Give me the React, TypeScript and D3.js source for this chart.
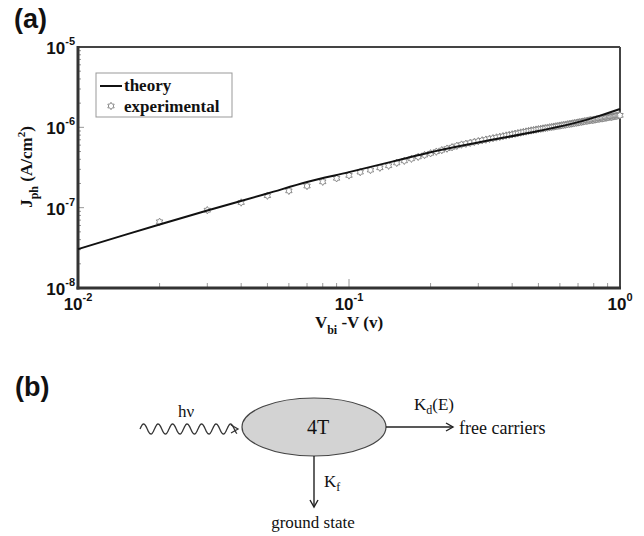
import React from "react";
import * as d3 from "d3";

// Photocurrent density vs. effective voltage (log-log)
const THEORY_V = [0.01, 0.015, 0.02, 0.03, 0.05, 0.07, 0.1, 0.15, 0.2, 0.3, 0.5, 0.7, 0.85, 1.0];
const THEORY_J = [3.05e-8, 4.62e-8, 6.18e-8, 9.23e-8, 1.5e-7, 2.09e-7, 2.77e-7, 3.86e-7, 4.9e-7, 6.49e-7, 9.0e-7, 1.16e-6, 1.41e-6, 1.69e-6];

const EXP_V = [
  0.02, 0.03, 0.04, 0.05, 0.06, 0.07, 0.08, 0.09, 0.1,
  0.11, 0.12, 0.13, 0.14, 0.15, 0.16, 0.17, 0.18, 0.19, 0.2,
  0.21, 0.22, 0.23, 0.24, 0.25, 0.26, 0.27, 0.28, 0.29, 0.3,
  0.31, 0.32, 0.33, 0.34, 0.35, 0.36, 0.37, 0.38, 0.39, 0.4,
  0.41, 0.42, 0.43, 0.44, 0.45, 0.46, 0.47, 0.48, 0.49, 0.5,
  0.51, 0.52, 0.53, 0.54, 0.55, 0.56, 0.57, 0.58, 0.59, 0.6,
  0.61, 0.62, 0.63, 0.64, 0.65, 0.66, 0.67, 0.68, 0.69, 0.7,
  0.71, 0.72, 0.73, 0.74, 0.75, 0.76, 0.77, 0.78, 0.79, 0.8,
  0.81, 0.82, 0.83, 0.84, 0.85, 0.86, 0.87, 0.88, 0.89, 0.9,
  0.91, 0.92, 0.93, 0.94, 0.95, 0.96, 0.97, 0.98, 0.99, 1.0,
];
const EXP_J = [
  6.67e-8, 9.3e-8, 1.16e-7, 1.41e-7, 1.62e-7, 1.86e-7, 2.1e-7, 2.32e-7, 2.52e-7,
  2.77e-7, 2.94e-7, 3.14e-7, 3.33e-7, 3.61e-7, 3.83e-7, 4.06e-7, 4.29e-7, 4.52e-7, 4.75e-7,
  4.98e-7, 5.2e-7, 5.43e-7, 5.65e-7, 5.89e-7, 6.1e-7, 6.25e-7, 6.41e-7, 6.58e-7, 6.73e-7,
  6.89e-7, 7.03e-7, 7.19e-7, 7.33e-7, 7.48e-7, 7.62e-7, 7.76e-7, 7.91e-7, 8.05e-7, 8.18e-7,
  8.33e-7, 8.47e-7, 8.61e-7, 8.75e-7, 8.87e-7, 9.02e-7, 9.14e-7, 9.25e-7, 9.37e-7, 9.48e-7,
  9.59e-7, 9.68e-7, 9.79e-7, 9.91e-7, 1.0e-6, 1.01e-6, 1.02e-6, 1.03e-6, 1.04e-6, 1.05e-6,
  1.06e-6, 1.07e-6, 1.08e-6, 1.09e-6, 1.1e-6, 1.11e-6, 1.12e-6, 1.13e-6, 1.14e-6, 1.15e-6,
  1.16e-6, 1.17e-6, 1.18e-6, 1.19e-6, 1.2e-6, 1.21e-6, 1.22e-6, 1.23e-6, 1.23e-6, 1.24e-6,
  1.25e-6, 1.26e-6, 1.27e-6, 1.28e-6, 1.29e-6, 1.29e-6, 1.3e-6, 1.31e-6, 1.32e-6, 1.33e-6,
  1.34e-6, 1.35e-6, 1.35e-6, 1.36e-6, 1.37e-6, 1.38e-6, 1.39e-6, 1.4e-6, 1.41e-6, 1.41e-6,
];

const X_DECADES = [0.01, 0.1, 1];
const X_EXP = ["-2", "-1", "0"];
const Y_DECADES = [1e-8, 1e-7, 1e-6, 1e-5];
const Y_EXP = ["-8", "-7", "-6", "-5"];

const SERIF = "'Liberation Serif', 'Times New Roman', serif";
const SANS = "'Liberation Sans', Arial, sans-serif";

const L = 78, R = 620, T = 47, B = 288;

function hexagram(r: number, ri: number) {
  const pts: [number, number][] = [];
  for (let i = 0; i < 12; i++) {
    const a = -Math.PI / 2 + (i * Math.PI) / 6;
    const rr = i % 2 === 0 ? r : ri;
    pts.push([rr * Math.cos(a), rr * Math.sin(a)]);
  }
  return "M" + pts.map((p) => p.join(",")).join("L") + "Z";
}

export default function App() {
  const x = d3.scaleLog().domain([0.01, 1]).range([L, R]);
  const y = d3.scaleLog().domain([1e-8, 1e-5]).range([B, T]);

  const line = d3
    .line<number>()
    .x((_, i) => x(THEORY_V[i]))
    .y((d) => y(d))
    .curve(d3.curveMonotoneX);

  const starPath = hexagram(3.7, 2.2);

  const xMinor: number[] = [];
  for (const d of [0.01, 0.1]) for (let k = 2; k <= 9; k++) xMinor.push(d * k);
  const yMinor: number[] = [];
  for (const d of [1e-8, 1e-7, 1e-6]) for (let k = 2; k <= 9; k++) yMinor.push(d * k);

  // wavy photon arrow
  const waveX0 = 140, waveX1 = 237, waveY = 429;
  const wavePts = d3.range(0, waveX1 - waveX0 + 0.5, 0.5).map((t) => [
    waveX0 + t,
    waveY + 5 * Math.sin((t / 14.5) * 2 * Math.PI + Math.PI),
  ]) as [number, number][];
  const wave = d3.line()(wavePts) || "";

  const ex = 314, ey = 427, erx = 72, ery = 29;

  return (
    <svg
      width={644}
      height={536}
      style={{ position: "absolute", left: 0, top: 0, background: "#fff" }}
    >
      <rect width={644} height={536} fill="#fff" />
      {/* panel labels */}
      <text x={14} y={28} fontFamily={SANS} fontWeight="bold" fontSize={27} fill="#111">(a)</text>
      <text x={15} y={396} fontFamily={SANS} fontWeight="bold" fontSize={27} fill="#111">(b)</text>

      {/* ticks */}
      <g stroke="#999" strokeWidth={1}>
        {xMinor.map((v) => (
          <line key={"xm" + v} x1={x(v)} x2={x(v)} y1={B} y2={B - 5} />
        ))}
        {X_DECADES.map((v) => (
          <line key={"xM" + v} x1={x(v)} x2={x(v)} y1={B} y2={B - 9} />
        ))}
        {yMinor.map((v) => (
          <line key={"ym" + v} x1={L} x2={L + 3} y1={y(v)} y2={y(v)} />
        ))}
        {Y_DECADES.map((v) => (
          <line key={"yM" + v} x1={L} x2={L + 6} y1={y(v)} y2={y(v)} />
        ))}
      </g>

      {/* frame */}
      <line x1={L} x2={R} y1={T} y2={T} stroke="#444" strokeWidth={2} />
      <line x1={R} x2={R} y1={T} y2={B} stroke="#444" strokeWidth={2} />
      <line x1={L} x2={L} y1={T - 1} y2={B + 1.5} stroke="#333" strokeWidth={3} />
      <line x1={L - 1.5} x2={R + 1} y1={B} y2={B} stroke="#333" strokeWidth={3} />

      {/* tick labels */}
      <g fontFamily={SANS} fontWeight="bold" fill="#111">
        {X_DECADES.map((v, i) => (
          <text key={"xl" + v} x={x(v)} y={310} textAnchor="middle" fontSize={17}>
            10<tspan dy={-9} fontSize={11}>{X_EXP[i]}</tspan>
          </text>
        ))}
        {Y_DECADES.map((v, i) => (
          <text key={"yl" + v} x={75} y={y(v) + 7} textAnchor="end" fontSize={17}>
            10<tspan dy={-9} fontSize={11}>{Y_EXP[i]}</tspan>
          </text>
        ))}
      </g>

      {/* axis titles */}
      <text x={349} y={328} textAnchor="middle" fontFamily={SERIF} fontWeight="bold" fontSize={17} fill="#111">
        V<tspan dy={6} fontSize={12}>bi</tspan>
        <tspan dy={-6}> -V (v)</tspan>
      </text>
      <text
        transform="translate(32,167) rotate(-90)"
        textAnchor="middle"
        fontFamily={SERIF}
        fontWeight="bold"
        fontSize={17}
        fill="#111"
      >
        J<tspan dy={6} fontSize={12}>ph</tspan>
        <tspan dy={-6}> (A/cm</tspan>
        <tspan dy={-7} fontSize={11}>2</tspan>
        <tspan dy={7}>)</tspan>
      </text>

      {/* experimental points */}
      <g stroke="#808080" strokeWidth={0.9} fill="#fff">
        {EXP_J.map((j, i) => (
          <path key={"e" + i} d={starPath} transform={`translate(${x(EXP_V[i])},${y(j)})`} />
        ))}
      </g>

      {/* theory curve */}
      <path d={line(THEORY_J) || ""} fill="none" stroke="#111" strokeWidth={2} />

      {/* legend */}
      <rect x={96} y={73} width={136} height={44} fill="#fff" stroke="#999" strokeWidth={1} />
      <line x1={100} x2={122} y1={86} y2={86} stroke="#111" strokeWidth={2} />
      <text x={124} y={91} fontFamily={SERIF} fontWeight="bold" fontSize={17} fill="#111">theory</text>
      <path d={starPath} transform="translate(111,106)" stroke="#808080" strokeWidth={0.9} fill="#fff" />
      <text x={124} y={112} fontFamily={SERIF} fontWeight="bold" fontSize={17} fill="#111">experimental</text>

      {/* (b) kinetic scheme */}
      <g fontFamily={SERIF} fill="#111" fontSize={17}>
        <path d={wave} fill="none" stroke="#333" strokeWidth={1.3} />
        <path d={`M${waveX1 - 6},${waveY - 4}L${waveX1 + 1},${waveY}L${waveX1 - 6},${waveY + 4}`} fill="none" stroke="#333" strokeWidth={1.3} />
        <text x={186} y={417} textAnchor="middle">hν</text>

        <ellipse cx={ex} cy={ey} rx={erx} ry={ery} fill="#d3d3d3" stroke="#444" strokeWidth={1.2} />
        <text x={ex + 4} y={ey + 7} textAnchor="middle" fontSize={20}>4T</text>

        <line x1={ex + erx} x2={453} y1={ey} y2={ey} stroke="#222" strokeWidth={1.4} />
        <path d={`M446,${ey - 4}L453,${ey}L446,${ey + 4}`} fill="none" stroke="#222" strokeWidth={1.4} />
        <text x={414} y={410}>
          K<tspan dy={4} fontSize={12}>d</tspan>
          <tspan dy={-4}>(E)</tspan>
        </text>
        <text x={459} y={434} fontSize={18}>free carriers</text>

        <line x1={ex} x2={ex} y1={ey + ery} y2={507} stroke="#222" strokeWidth={1.4} />
        <path d={`M${ex - 4},500L${ex},507L${ex + 4},500`} fill="none" stroke="#222" strokeWidth={1.4} />
        <text x={324} y={487}>
          K<tspan dy={4} fontSize={12}>f</tspan>
        </text>
        <text x={313} y={528} textAnchor="middle">ground state</text>
      </g>
    </svg>
  );
}
